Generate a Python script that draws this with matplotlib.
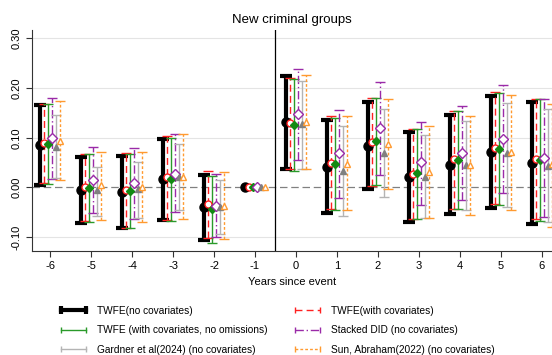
import numpy as np
import matplotlib
matplotlib.use("Agg")
import matplotlib.pyplot as plt
from matplotlib.lines import Line2D

plt.rcParams['font.family'] = ['Liberation Sans', 'DejaVu Sans']

events = [-6, -5, -4, -3, -2, -1, 0, 1, 2, 3, 4, 5, 6]

labels = ["TWFE(no covariates)", "TWFE(with covariates)",
          "TWFE (with covariates, no omissions)", "Stacked DID (no covariates)",
          "Gardner et al(2024) (no covariates)", "Sun, Abraham(2022) (no covariates)"]

twfe_pt = [0.085, -0.005, -0.010, 0.016, -0.040, 0, 0.131, 0.041, 0.083, 0.021, 0.045, 0.072, 0.050]
twfe_lo = [0.005, -0.072, -0.082, -0.065, -0.105, 0, 0.037, -0.052, -0.004, -0.070, -0.053, -0.041, -0.073]
twfe_hi = [0.166, 0.062, 0.064, 0.097, 0.025, 0, 0.224, 0.135, 0.172, 0.111, 0.146, 0.185, 0.172]

cov_pt = [0.089, 0.000, -0.005, 0.020, -0.034, 0, 0.129, 0.050, 0.092, 0.028, 0.057, 0.080, 0.058]
cov_lo = [0.008, -0.068, -0.081, -0.065, -0.102, 0, 0.037, -0.043, 0.003, -0.063, -0.043, -0.033, -0.063]
cov_hi = [0.168, 0.068, 0.069, 0.104, 0.033, 0, 0.220, 0.144, 0.181, 0.118, 0.154, 0.193, 0.179]

noom_pt = [0.087, -0.001, -0.007, 0.016, -0.043, 0, 0.125, 0.048, 0.093, 0.029, 0.055, 0.077, 0.055]
noom_lo = [0.006, -0.069, -0.081, -0.067, -0.111, 0, 0.033, -0.045, 0.004, -0.063, -0.043, -0.035, -0.067]
noom_hi = [0.167, 0.067, 0.067, 0.099, 0.024, 0, 0.218, 0.140, 0.181, 0.118, 0.154, 0.190, 0.178]

stack_pt = [0.099, 0.015, 0.008, 0.028, -0.038, 0, 0.147, 0.069, 0.119, 0.051, 0.069, 0.097, 0.060]
stack_lo = [0.017, -0.052, -0.063, -0.050, -0.100, 0, 0.055, -0.022, 0.026, -0.035, -0.025, -0.012, -0.059]
stack_hi = [0.180, 0.082, 0.080, 0.108, 0.028, 0, 0.239, 0.156, 0.212, 0.132, 0.163, 0.206, 0.178]

gard_pt = [0.082, -0.005, -0.003, 0.022, -0.040, 0, 0.127, 0.033, 0.070, 0.022, 0.045, 0.069, 0.044]
gard_lo = [0.018, -0.057, -0.062, -0.045, -0.094, 0, 0.037, -0.058, -0.020, -0.062, -0.045, -0.039, -0.069]
gard_hi = [0.145, 0.042, 0.052, 0.087, 0.014, 0, 0.214, 0.123, 0.158, 0.106, 0.134, 0.171, 0.158]

sa_pt = [0.094, 0.004, 0.000, 0.022, -0.038, 0, 0.132, 0.048, 0.087, 0.032, 0.045, 0.071, 0.047]
sa_lo = [0.014, -0.065, -0.070, -0.063, -0.103, 0, 0.037, -0.046, -0.003, -0.062, -0.055, -0.046, -0.079]
sa_hi = [0.175, 0.072, 0.071, 0.107, 0.032, 0, 0.227, 0.144, 0.178, 0.124, 0.144, 0.187, 0.169]

series = [
    dict(pt=twfe_pt, lo=twfe_lo, hi=twfe_hi, off=-0.25, color='black', lcolor='black', lw=3.0,
         ls='-', marker='o', ms=6.5, mfc='black', cap=4.2),
    dict(pt=cov_pt, lo=cov_lo, hi=cov_hi, off=-0.15, color='#ff2020', lcolor='#ff2020', lw=1.0,
         ls=(0, (5, 3)), marker='o', ms=5, mfc='white', cap=3.5),
    dict(pt=noom_pt, lo=noom_lo, hi=noom_hi, off=-0.05, color='#128a12', lcolor='#2a9a2a', lw=1.0,
         ls='-', marker='D', ms=4.5, mfc='#128a12', cap=3.5),
    dict(pt=stack_pt, lo=stack_lo, hi=stack_hi, off=0.05, color='#9a2aa8', lcolor='#9a2aa8', lw=1.0,
         ls=(0, (6, 2, 1, 2)), marker='D', ms=5, mfc='white', cap=3.5),
    dict(pt=gard_pt, lo=gard_lo, hi=gard_hi, off=0.15, color='#808080', lcolor='#b4b4b4', lw=1.0,
         ls='-', marker='^', ms=4.5, mfc='#808080', cap=3.5),
    dict(pt=sa_pt, lo=sa_lo, hi=sa_hi, off=0.25, color='#ff9a30', lcolor='#ff9a30', lw=1.0,
         ls=(0, (2, 1.5)), marker='^', ms=5, mfc='white', cap=3.5),
]

W, H = 552, 355
fig = plt.figure(figsize=(W / 100, H / 100), dpi=100)
ax = fig.add_axes([31.7 / W, 1 - 251 / H, 1 - 31.7 / W, (251 - 30) / H])

ax.set_xlim(-6.45, 6.25)
ax.set_ylim(-0.128, 0.317)
ax.set_yticks([-0.10, 0.00, 0.10, 0.20, 0.30])
ax.set_yticklabels(['-0.10', '0.00', '0.10', '0.20', '0.30'], rotation=90, va='center')
ax.set_xticks(events)
ax.set_xticklabels([str(e) for e in events])
ax.tick_params(axis='both', labelsize=8, length=4, width=0.8, color='#333333')
for s in ['top', 'right']:
    ax.spines[s].set_visible(False)
for s in ['left', 'bottom']:
    ax.spines[s].set_color('#333333')
    ax.spines[s].set_linewidth(0.8)

for yv in [-0.10, 0.10, 0.20, 0.30]:
    ax.axhline(yv, color='#e4e4e4', lw=0.8, zorder=0)
ax.axhline(0, color='#808080', lw=0.9, ls=(0, (6, 3)), zorder=1)
ax.axvline(-0.5, color='black', lw=0.9, zorder=1)

ev = np.array(events, dtype=float)
handles = []
for i, s in enumerate(series):
    pt = np.array(s['pt']); lo = np.array(s['lo']); hi = np.array(s['hi'])
    mask = hi > lo
    x = ev + s['off']
    eb = ax.errorbar(x[mask], pt[mask], yerr=[pt[mask] - lo[mask], hi[mask] - pt[mask]],
                     fmt='none', ecolor=s['lcolor'], elinewidth=s['lw'],
                     capsize=s['cap'], capthick=s['lw'], zorder=2 + i)
    eb[2][0].set_linestyle(s['ls'])
    ax.plot(x, pt, ls='none', marker=s['marker'], ms=s['ms'], mfc=s['mfc'],
            mec=s['color'], mew=1.0, zorder=10 + i)
    handles.append(Line2D([], [], color=s['lcolor'], lw=s['lw'], ls=s['ls'],
                          marker='|', ms=6 if i == 0 else 5, mew=s['lw']))

ax.set_title("New criminal groups", fontsize=9.5, pad=5)
ax.set_xlabel("Years since event", fontsize=8, labelpad=4)

order = [0, 2, 4, 1, 3, 5]
fig.legend([handles[k] for k in order], [labels[k] for k in order],
           ncol=2, loc='upper left', bbox_to_anchor=(58 / W, 1 - 306 / H),
           frameon=False, fontsize=7.3, numpoints=2, handlelength=3.06,
           handletextpad=0.79, columnspacing=2.37, labelspacing=0.93,
           borderaxespad=0, borderpad=0)

fig.savefig("out.png", dpi=100)
